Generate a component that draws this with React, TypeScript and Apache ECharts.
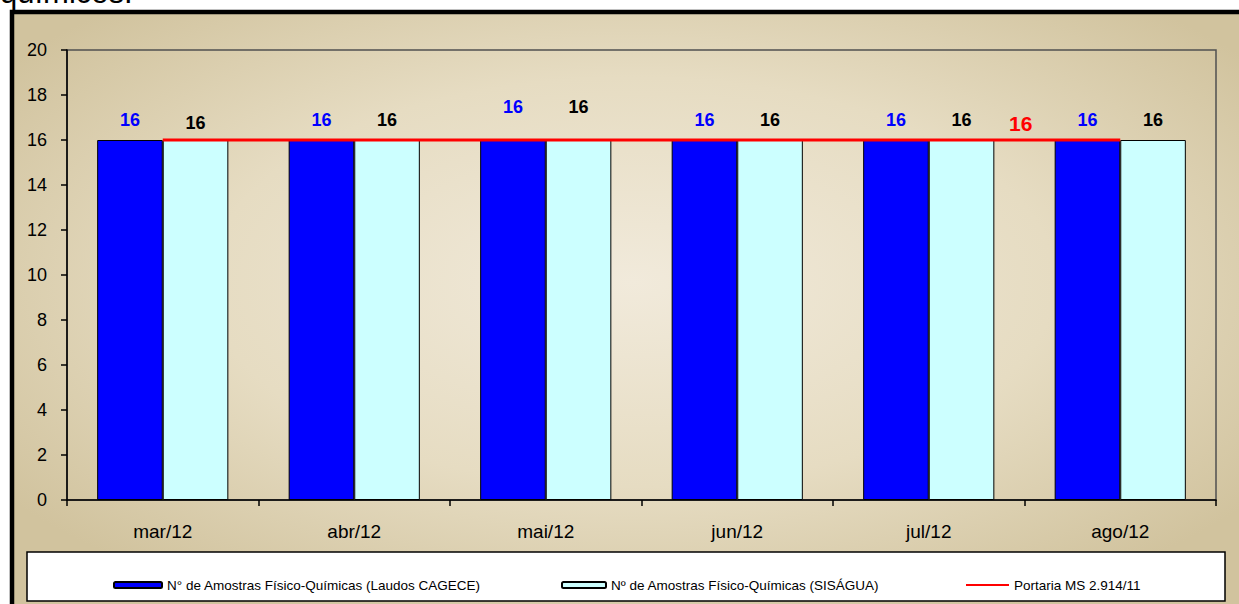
import React, { useEffect, useRef } from "react";
import * as echarts from "echarts";

// ---- data ----
const months = ["mar/12", "abr/12", "mai/12", "jun/12", "jul/12", "ago/12"];
const cagece = [16, 16, 16, 16, 16, 16];
const sisagua = [16, 16, 16, 16, 16, 16];
const portaria = [16, 16, 16, 16, 16, 16];
const seriesNames = [
  "N° de Amostras Físico-Químicas (Laudos CAGECE)",
  "Nº de Amostras Físico-Químicas (SISÁGUA)",
  "Portaria MS 2.914/11",
];
const headingText = "químicos.";

// ---- label placement (style only) ----
const cageceLabelDist = [11, 11, 24, 11, 11, 11];
const sisaguaLabelDist = [8, 11, 24, 11, 11, 11];
const portariaLabelIndex = 4;

const sans = "'Liberation Sans', Arial, Helvetica, sans-serif";

export default function App() {
  const ref = useRef<HTMLDivElement>(null);
  useEffect(() => {
    if (!ref.current) return;
    const chart = echarts.init(ref.current, undefined, { renderer: "svg" });
    const bg = new echarts.graphic.RadialGradient(0.5, 0.45, 0.62, [
      { offset: 0, color: "#f1eadb" },
      { offset: 0.55, color: "#e6dcc2" },
      { offset: 1, color: "#d1c39e" },
    ]);
    const legendBase = {
      orient: "horizontal",
      padding: 0,
      top: 578,
      itemHeight: 6,
      textStyle: { fontFamily: sans, fontSize: 13.5, color: "#000" },
      selectedMode: false,
    };
    chart.setOption({
      animation: false,
      textStyle: { fontFamily: sans },
      graphic: {
        elements: [
          {
            type: "text",
            left: 0,
            y: 8,
            z: 5,
            style: {
              text: headingText,
              font: `31px ${sans}`,
              fill: "#000",
              verticalAlign: "bottom",
            },
          },
          {
            type: "rect",
            z: -10,
            shape: { x: 12, y: 12, width: 1240, height: 600 },
            style: { fill: bg, stroke: "#000", lineWidth: 4.5 },
          },
          {
            type: "rect",
            z: 1,
            shape: { x: 27, y: 552, width: 1198, height: 49 },
            style: { fill: "#fff", stroke: "#000", lineWidth: 1.5 },
          },
        ],
      },
      grid: {
        left: 67,
        right: 23,
        top: 50,
        bottom: 104,
        show: true,
        backgroundColor: "transparent",
        borderColor: "#505050",
        borderWidth: 1.5,
      },
      legend: [
        { ...legendBase, left: 113, itemWidth: 48, data: [seriesNames[0]] },
        { ...legendBase, left: 561, itemWidth: 44, data: [seriesNames[1]] },
        {
          ...legendBase,
          left: 966,
          itemWidth: 43,
          itemHeight: 2,
          data: [{ name: seriesNames[2], icon: "rect", itemStyle: { color: "#ff0000", opacity: 1 } }],
        },
      ],
      xAxis: {
        type: "category",
        data: months,
        axisLine: { lineStyle: { color: "#000", width: 1.5 } },
        axisTick: { show: true, length: 6, lineStyle: { color: "#000", width: 1.5 } },
        axisLabel: { color: "#000", fontSize: 19, margin: 22, fontFamily: sans },
        splitLine: { show: false },
      },
      yAxis: {
        type: "value",
        min: 0,
        max: 20,
        interval: 2,
        axisLine: { show: true, lineStyle: { color: "#000", width: 1.5 } },
        axisTick: { show: true, length: 6, lineStyle: { color: "#000", width: 1.5 } },
        axisLabel: { color: "#000", fontSize: 18, margin: 20, fontFamily: sans },
        splitLine: { show: false },
      },
      series: [
        {
          name: seriesNames[0],
          type: "bar",
          barGap: "0%",
          barCategoryGap: "31.5%",
          itemStyle: { color: "#0000ff", borderColor: "#000", borderWidth: 1 },
          data: cagece.map((v, i) => ({
            value: v,
            label: { distance: cageceLabelDist[i] },
          })),
          label: {
            show: true,
            position: "top",
            color: "#0000ff",
            fontWeight: "bold",
            fontSize: 18,
            fontFamily: sans,
          },
        },
        {
          name: seriesNames[1],
          type: "bar",
          itemStyle: { color: "#ccffff", borderColor: "#000", borderWidth: 1 },
          data: sisagua.map((v, i) => ({
            value: v,
            label: { distance: sisaguaLabelDist[i] },
          })),
          label: {
            show: true,
            position: "top",
            color: "#000",
            fontWeight: "bold",
            fontSize: 18,
            fontFamily: sans,
          },
        },
        {
          name: seriesNames[2],
          type: "line",
          symbol: "circle",
          symbolSize: 1,
          showSymbol: true,
          z: 5,
          lineStyle: { color: "#ff0000", width: 3 },
          itemStyle: { color: "#ff0000", opacity: 0 },
          label: { show: false },
          data: portaria.map((v, i) =>
            i === portariaLabelIndex
              ? {
                  value: v,
                  label: {
                    show: true,
                    position: "top",
                    distance: 6,
                    offset: [92, 0],
                    color: "#ff0000",
                    fontWeight: "bold",
                    fontSize: 21,
                    fontFamily: sans,
                    opacity: 1,
                  },
                }
              : v
          ),
        },
      ],
    });
    return () => chart.dispose();
  }, []);
  return (
    <div
      ref={ref}
      style={{ position: "absolute", left: 0, top: 0, width: 1239, height: 604 }}
    />
  );
}
